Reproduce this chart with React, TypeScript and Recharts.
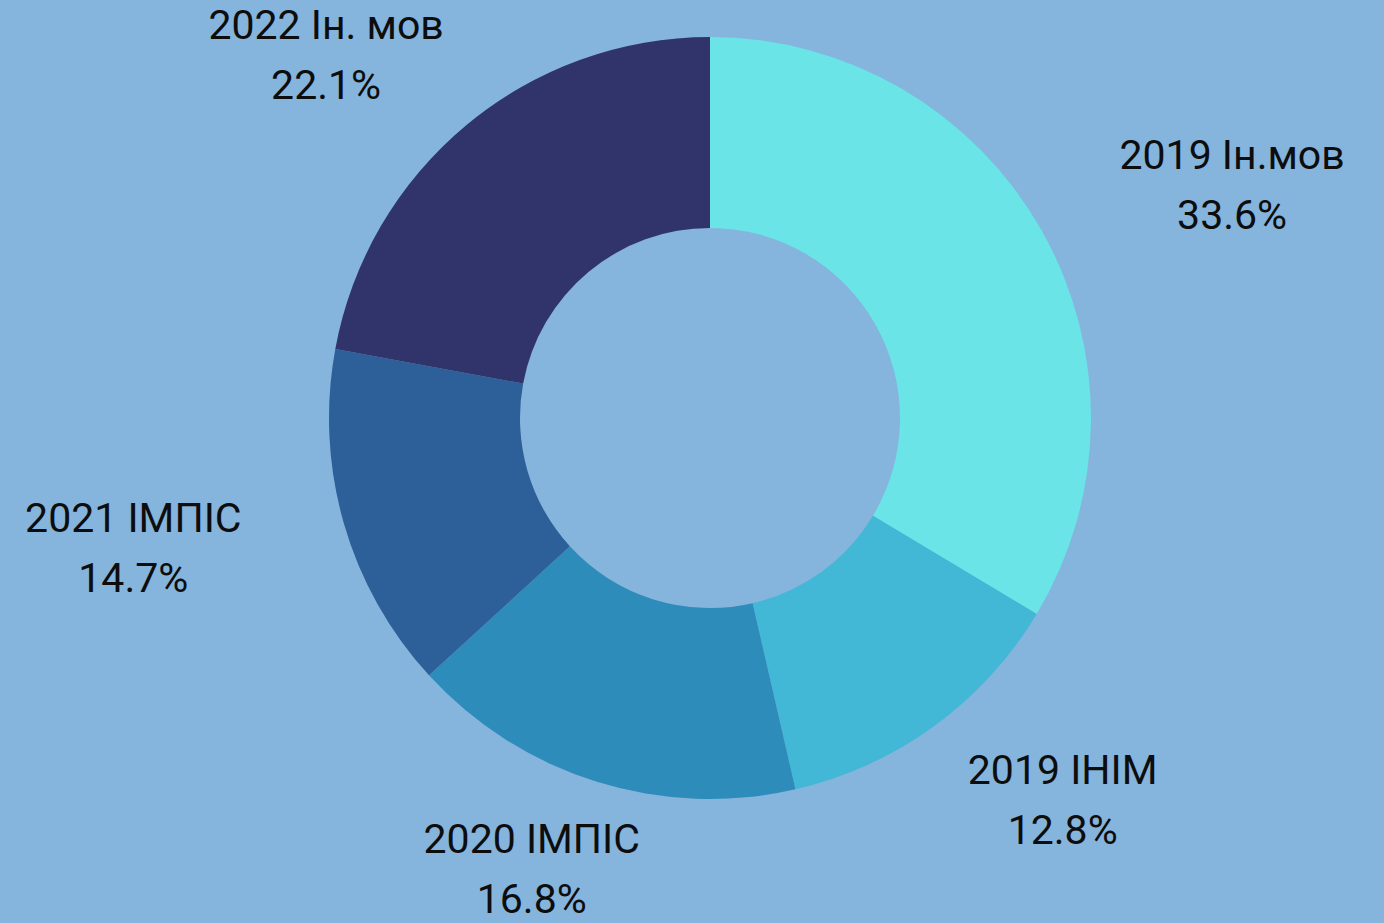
import React from 'react';
import { PieChart, Pie, Cell } from 'recharts';

const labels = ['2019 Ін.мов', '2019 ІНІМ', '2020 ІМПІС', '2021 ІМПІС', '2022 Ін. мов'];
const shares = [33.6, 12.8, 16.8, 14.7, 22.1];
const colors = ['#6ae4e7', '#42b7d6', '#2e8cba', '#2d5f98', '#30346b'];

const data = labels.map((name, i) => ({ name, value: shares[i] }));

const RAD = Math.PI / 180;

function renderLabel(props: any) {
  const { cx, cy, midAngle, index } = props;
  // labels sit on a wide ellipse around the ring
  const x = cx + 600 * Math.cos(-midAngle * RAD);
  const y = cy + 472 * Math.sin(-midAngle * RAD);
  return (
    <text
      x={x}
      y={y}
      textAnchor="middle"
      fill="#0d0d0d"
      fontFamily="Roboto, sans-serif"
      fontSize={41}
    >
      <tspan x={x} dy={-16}>{labels[index]}</tspan>
      <tspan x={x} dy={60}>{shares[index].toFixed(1)}%</tspan>
    </text>
  );
}

export default function App() {
  return (
    <div style={{ width: 1384, height: 923, background: '#85b4dc' }}>
      <style>{`body{margin:0}`}</style>
      <PieChart width={1384} height={923} margin={{ top: 0, right: 0, bottom: 0, left: 0 }}>
        <Pie
          data={data}
          dataKey="value"
          nameKey="name"
          cx={710}
          cy={418}
          innerRadius={190}
          outerRadius={381}
          startAngle={90}
          endAngle={-270}
          stroke="none"
          label={renderLabel}
          labelLine={false}
          isAnimationActive={false}
        >
          {data.map((d, i) => (
            <Cell key={d.name} fill={colors[i]} />
          ))}
        </Pie>
      </PieChart>
    </div>
  );
}
